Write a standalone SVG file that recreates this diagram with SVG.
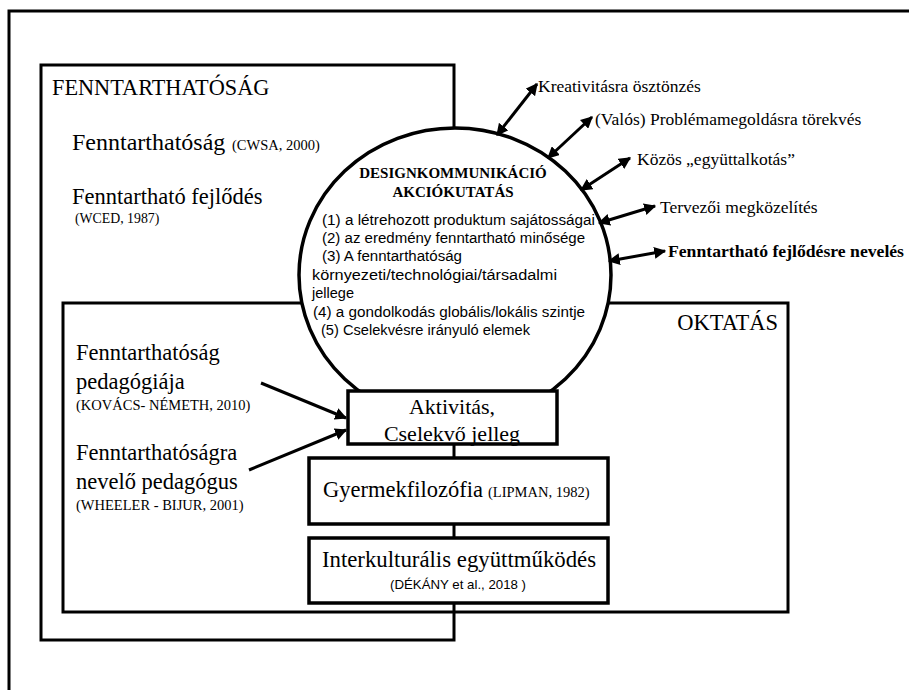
<svg xmlns="http://www.w3.org/2000/svg" width="909" height="690" viewBox="0 0 909 690">
<style>
.ln{fill:none;stroke:#000;stroke-width:3}
.box{fill:#fff;stroke:#000;stroke-width:3.5}
.ser{font-family:"Liberation Serif","Times New Roman",serif;fill:#000}
.san{font-family:"Liberation Sans",Arial,sans-serif;fill:#000}
.big{font-size:22.5px}
.sm{font-size:14.5px}
.arr{fill:none;stroke:#000;stroke-width:3}
</style>
<defs>
<marker id="ah" viewBox="0 0 10 10" refX="9" refY="5" markerWidth="4" markerHeight="4" orient="auto-start-reverse" markerUnits="strokeWidth">
<path d="M0,0 L10,5 L0,10 Z" fill="#000"/>
</marker>
</defs>
<rect width="909" height="690" fill="#fff"/>
<g id="frame">
<rect class="ln" x="9" y="11" width="1000" height="800"/>
</g>
<g id="fenntarthatosag">
<rect class="ln" x="41" y="65" width="413" height="575"/>
<text class="ser" x="52" y="95" font-size="22.3">FENNTARTHATÓSÁG</text>
<text class="ser" x="72" y="150" font-size="24">Fenntarthatóság</text>
<text class="ser sm" x="232" y="150">(CWSA, 2000)</text>
<text class="ser big" x="72" y="204">Fenntartható fejlődés</text>
<text class="ser" x="75" y="223" font-size="13.8">(WCED, 1987)</text>
</g>
<g id="oktatas">
<rect class="ln" x="63" y="303" width="725" height="309"/>
<text class="ser big" x="778" y="330" text-anchor="end">OKTATÁS</text>
</g>
<g id="left-texts">
<text class="ser big" x="76" y="360">Fenntarthatóság</text>
<text class="ser big" x="76" y="389">pedagógiája</text>
<text class="ser sm" x="76" y="410">(KOVÁCS- NÉMETH, 2010)</text>
<text class="ser big" x="76" y="460">Fenntarthatóságra</text>
<text class="ser big" x="76" y="489">nevelő pedagógus</text>
<text class="ser sm" x="76" y="510">(WHEELER - BIJUR, 2001)</text>
</g>
<g id="design">
<ellipse cx="455" cy="275" rx="156" ry="147" fill="#fff" stroke="#000" stroke-width="3.5"/>
<text class="ser" x="453" y="178" font-size="15" font-weight="bold" text-anchor="middle">DESIGNKOMMUNIKÁCIÓ</text>
<text class="ser" x="453" y="197" font-size="15" font-weight="bold" text-anchor="middle">AKCIÓKUTATÁS</text>
<g class="san" font-size="14">
<text x="322" y="225" textLength="273" lengthAdjust="spacingAndGlyphs">(1) a létrehozott produktum sajátosságai</text>
<text x="322" y="243" textLength="263" lengthAdjust="spacingAndGlyphs">(2) az eredmény fenntartható minősége</text>
<text x="322" y="261" textLength="140" lengthAdjust="spacingAndGlyphs">(3) A fenntarthatóság</text>
<text x="312" y="280" textLength="245" lengthAdjust="spacingAndGlyphs">környezeti/technológiai/társadalmi</text>
<text x="312" y="298" textLength="42" lengthAdjust="spacingAndGlyphs">jellege</text>
<text x="313" y="317" textLength="272" lengthAdjust="spacingAndGlyphs">(4) a gondolkodás globális/lokális szintje</text>
<text x="321" y="335" textLength="209" lengthAdjust="spacingAndGlyphs">(5) Cselekvésre irányuló elemek</text>
</g>
</g>
<g id="aktivitas">
<rect class="box" x="348" y="391" width="209" height="53"/>
<text class="ser" x="452" y="414" font-size="22" text-anchor="middle">Aktivitás,</text>
<text class="ser" x="452" y="441" font-size="22" text-anchor="middle">Cselekvő jelleg</text>
</g>
<g id="gyermekfilozofia">
<rect class="box" x="309" y="458" width="299" height="66"/>
<text class="ser big" x="323" y="497">Gyermekfilozófia</text>
<text class="ser sm" x="488" y="497">(LIPMAN, 1982)</text>
</g>
<g id="interkulturalis">
<rect class="box" x="309" y="538" width="299" height="65"/>
<text class="ser" x="459" y="567" font-size="22.8" text-anchor="middle">Interkulturális együttműködés</text>
<text class="san" x="390" y="589" font-size="13" textLength="136" lengthAdjust="spacingAndGlyphs">(DÉKÁNY et al., 2018 )</text>
</g>
<g id="right-labels" class="ser" font-size="17.5">
<text x="538" y="92">Kreativitásra ösztönzés</text>
<text x="595" y="125">(Valós) Problémamegoldásra törekvés</text>
<text x="637" y="165">Közös „együttalkotás”</text>
<text x="660" y="213">Tervezői megközelítés</text>
<text x="668" y="257" font-weight="bold" textLength="236" lengthAdjust="spacingAndGlyphs">Fenntartható fejlődésre nevelés</text>
</g>
<g id="connectors">
<line class="arr" x1="497" y1="135" x2="537" y2="84" marker-start="url(#ah)" marker-end="url(#ah)"/>
<line class="arr" x1="548" y1="158" x2="592" y2="117" marker-start="url(#ah)" marker-end="url(#ah)"/>
<line class="arr" x1="581" y1="190" x2="630" y2="158" marker-start="url(#ah)" marker-end="url(#ah)"/>
<line class="arr" x1="599" y1="223" x2="655" y2="206" marker-start="url(#ah)" marker-end="url(#ah)"/>
<line class="arr" x1="609" y1="261" x2="665" y2="251" marker-start="url(#ah)" marker-end="url(#ah)"/>
<line class="arr" x1="261" y1="383" x2="346" y2="418" marker-end="url(#ah)"/>
<line class="arr" x1="249" y1="470" x2="346" y2="430" marker-end="url(#ah)"/>
</g>
</svg>
